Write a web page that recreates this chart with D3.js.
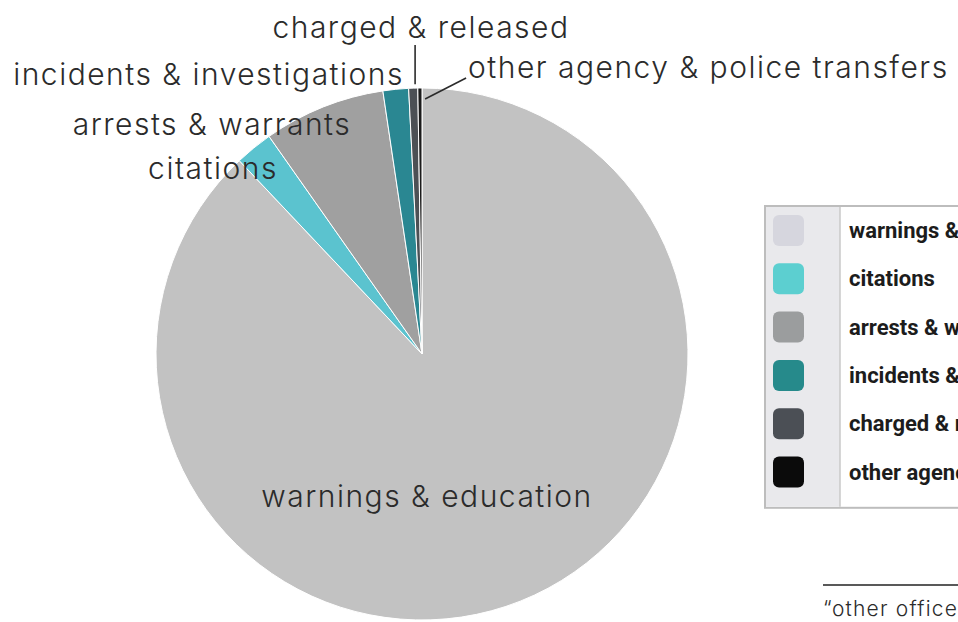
<!DOCTYPE html>
<html>
<head>
<meta charset="utf-8">
<script src="https://cdn.jsdelivr.net/npm/d3@7"></script>
<style>
  body { margin: 0; background: #fff; overflow: hidden; }
  .lbl { font-family: Inter, "Noto Sans", sans-serif; font-weight: 300; fill: #2b2b2b; }
  .leg { font-family: Roboto, sans-serif; font-weight: 700; fill: #1c1c1c; }
</style>
</head>
<body>
<script>
// data
const categories = [
  "warnings & education",
  "citations",
  "arrests & warrants",
  "incidents & investigations",
  "charged & released",
  "other agency & police transfers",
];
const shares = [87.95, 2.3, 7.4, 1.55, 0.55, 0.25];
const pieColors = ["#c2c2c2", "#5bc3cf", "#a0a0a0", "#2a8792", "#4c5055", "#1a1a1a"];
const legendColors = ["#d6d6de", "#5ccfd0", "#9b9d9e", "#268a8b", "#4b4f55", "#0b0b0b"];
const footnote = "\u201Cother officer actions\u201D";

const w = 958;
const h = 622;
const cx = 422;
const cy = 354;
const r = 266;

// label layout (anchor x, baseline y, text-anchor)
const labelPos = [
  { x: 427, y: 507, a: "middle" },
  { x: 213, y: 179, a: "middle" },
  { x: 212, y: 135, a: "middle" },
  { x: 404, y: 85, a: "end" },
  { x: 421, y: 38, a: "middle" },
  { x: 468, y: 78, a: "start" },
];

const svg = d3.select("body").append("svg").attr("width", w).attr("height", h);

const data = categories.map((c, i) => ({ name: c, value: shares[i], i: i }));

const pie = d3.pie().sort(null).value((d) => d.value);
const arcs = pie(data);
const arc = d3.arc().innerRadius(0).outerRadius(r);

const g = svg.append("g").attr("transform", `translate(${cx}, ${cy})`);

g.selectAll("path")
  .data(arcs)
  .enter()
  .append("path")
  .attr("d", arc)
  .attr("fill", (d) => pieColors[d.data.i])
  .attr("stroke", "#fff")
  .attr("stroke-width", 1);

// labels
svg
  .selectAll("text.lbl")
  .data(data)
  .enter()
  .append("text")
  .attr("class", "lbl")
  .attr("x", (d) => labelPos[d.i].x)
  .attr("y", (d) => labelPos[d.i].y)
  .attr("text-anchor", (d) => labelPos[d.i].a)
  .attr("font-size", 30)
  .attr("letter-spacing", 1.5)
  .text((d) => d.name);

// leader lines for the two thin slices
const polar = (a, rad) => [cx + rad * Math.sin(a), cy - rad * Math.cos(a)];
const mid = (d) => (d.startAngle + d.endAngle) / 2;

const chargedTop = polar(mid(arcs[4]), r + 4);
svg
  .append("line")
  .attr("x1", chargedTop[0] + 2)
  .attr("y1", chargedTop[1])
  .attr("x2", chargedTop[0] + 2)
  .attr("y2", 45)
  .attr("stroke", "#2b2b2b")
  .attr("stroke-width", 1.6);

const otherPt = polar(mid(arcs[5]) + 0.02, r - 11);
svg
  .append("line")
  .attr("x1", otherPt[0])
  .attr("y1", otherPt[1])
  .attr("x2", otherPt[0] + 41)
  .attr("y2", otherPt[1] - 21)
  .attr("stroke", "#2b2b2b")
  .attr("stroke-width", 1.6);

// legend (cut off at right edge like the reference)
const lx = 765;
const ly = 206;
const rowH = 48.3;
const legend = svg.append("g").attr("transform", `translate(${lx}, ${ly})`);

legend
  .append("rect")
  .attr("width", 300)
  .attr("height", rowH * categories.length + 12)
  .attr("fill", "#fff")
  .attr("stroke", "#bdbdbd")
  .attr("stroke-width", 2);

legend
  .append("rect")
  .attr("x", 1)
  .attr("y", 1)
  .attr("width", 74)
  .attr("height", rowH * categories.length + 10)
  .attr("fill", "#e9e9ec");

legend
  .append("line")
  .attr("x1", 75)
  .attr("x2", 75)
  .attr("y1", 1)
  .attr("y2", rowH * categories.length + 11)
  .attr("stroke", "#c8c8c8")
  .attr("stroke-width", 1.5);

legend
  .selectAll("rect.sw")
  .data(categories)
  .enter()
  .append("rect")
  .attr("class", "sw")
  .attr("x", 8)
  .attr("y", (d, i) => 9 + i * rowH)
  .attr("width", 31)
  .attr("height", 31)
  .attr("rx", 6)
  .attr("fill", (d, i) => legendColors[i]);

legend
  .selectAll("text.leg")
  .data(categories)
  .enter()
  .append("text")
  .attr("class", "leg")
  .attr("x", 84)
  .attr("y", (d, i) => 32 + i * rowH)
  .attr("font-size", 22)
  .text((d) => d);

// footnote
svg
  .append("line")
  .attr("x1", 823)
  .attr("x2", w)
  .attr("y1", 585)
  .attr("y2", 585)
  .attr("stroke", "#222")
  .attr("stroke-width", 1.6);

svg
  .append("text")
  .attr("class", "lbl")
  .attr("x", 823)
  .attr("y", 616)
  .attr("font-size", 21)
  .attr("letter-spacing", 1.2)
  .text(footnote);
</script>
</body>
</html>
